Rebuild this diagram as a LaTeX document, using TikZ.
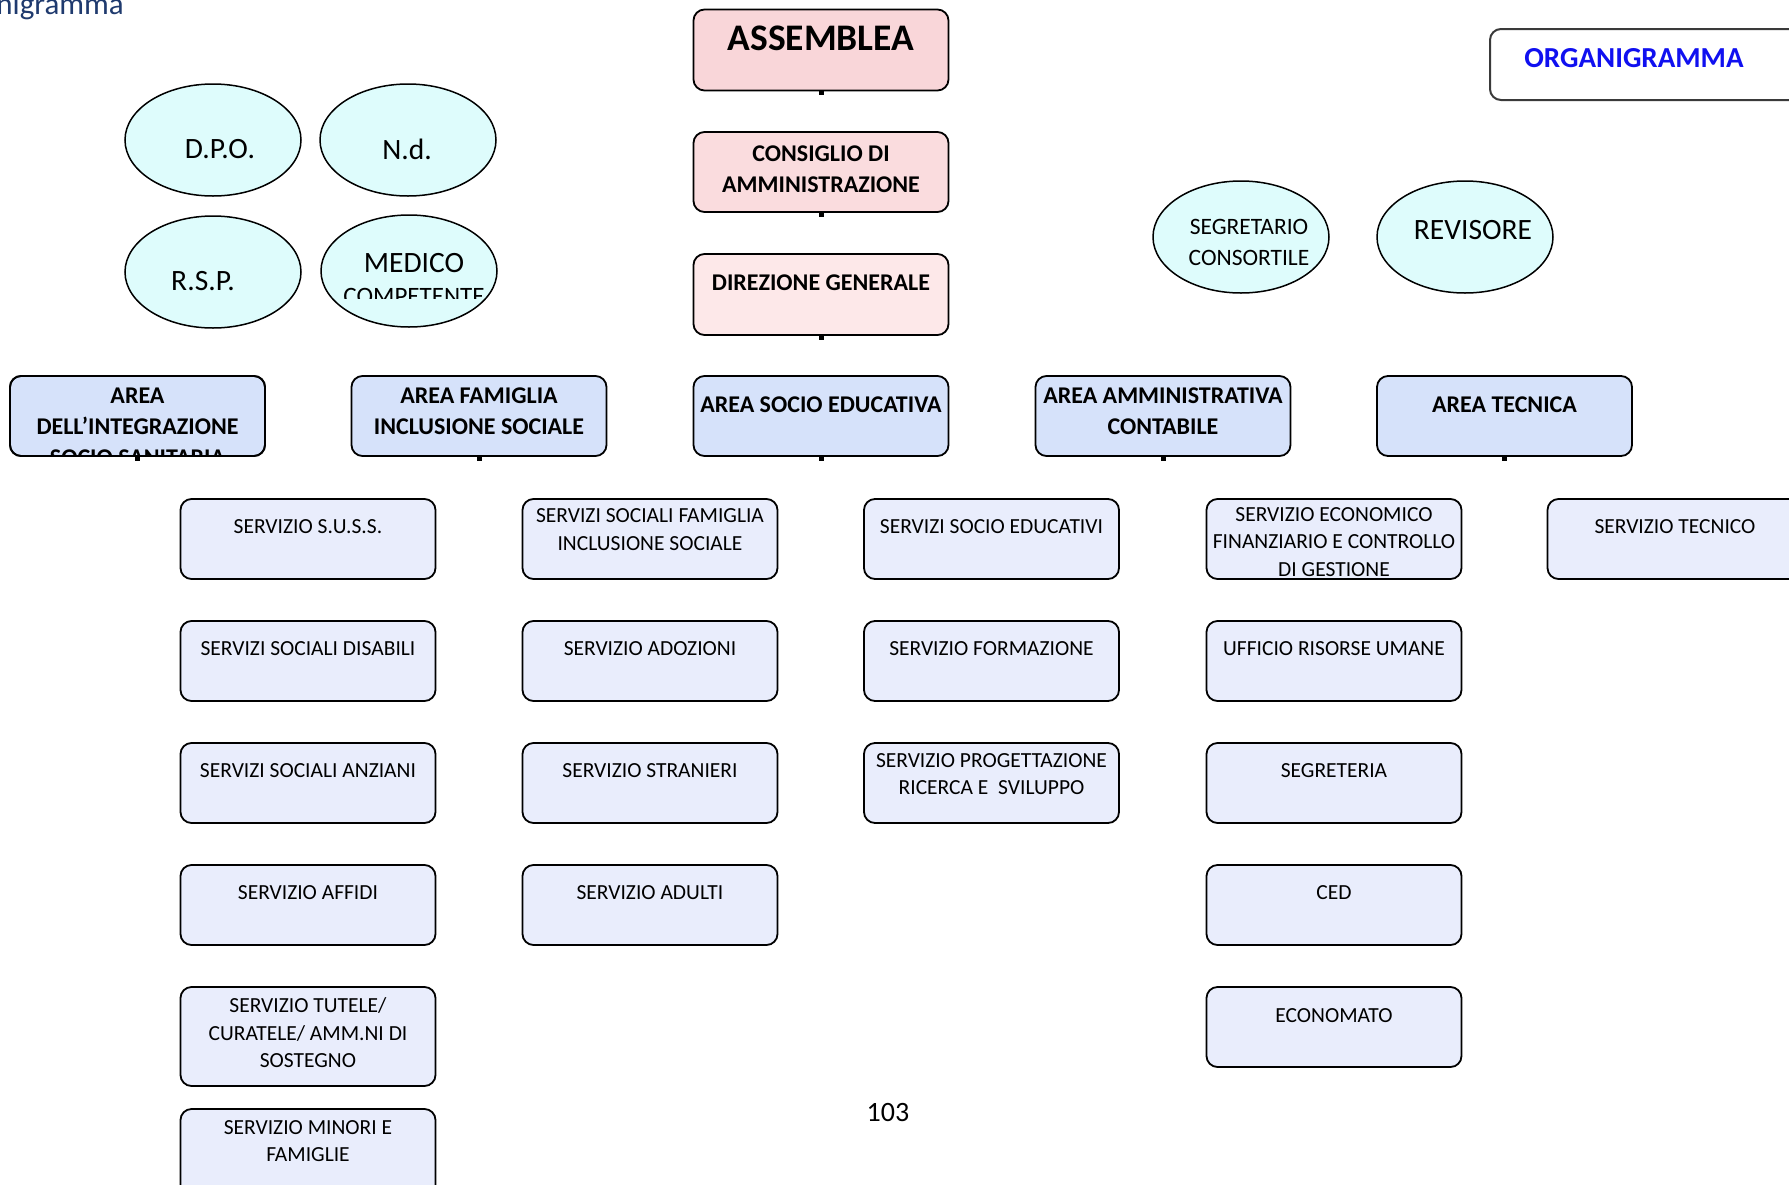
\documentclass[tikz,border=0pt]{standalone}
\usepackage{fontspec}
\setmainfont{Carlito}
\usetikzlibrary{shapes.geometric}
\definecolor{pinkA}{HTML}{F9D6D9}
\definecolor{pinkB}{HTML}{FADCDE}
\definecolor{pinkC}{HTML}{FDE8E9}
\definecolor{areafill}{HTML}{D6E2FA}
\definecolor{svcfill}{HTML}{E9EDFC}
\definecolor{ovalfill}{HTML}{DEFCFC}
\definecolor{titleblue}{HTML}{1F3A6E}
\definecolor{orgblue}{HTML}{1010F0}
\definecolor{orgedge}{HTML}{3A3A3A}
\begin{document}
\begin{tikzpicture}[x=1pt,y=-1pt,
  box/.style={draw=black, line width=1.8pt, rounded corners=11pt, outer sep=0pt,
    minimum width=255pt, minimum height=80pt, inner sep=0pt},
  svc/.style={box, fill=svcfill},
  area/.style={box, fill=areafill},
  txt/.style={align=center, inner sep=0pt, font=\fontsize{21.5}{27.5}\selectfont},
  btxt/.style={align=center, inner sep=0pt, font=\fontsize{24}{31}\selectfont\bfseries},
  oval/.style={ellipse, draw=black, line width=1.5pt, fill=ovalfill,
    minimum width=176pt, minimum height=112pt, inner sep=0pt},
  otxt/.style={align=center, inner sep=0pt, font=\fontsize{29.5}{33}\selectfont},
  dotmark/.style={fill=black}
]
\clip (0,0) rectangle (1789,1184);
\fill[white] (0,0) rectangle (1789,1184);

% title (cut off at the left)
\node[anchor=base east, inner sep=0pt, text=titleblue,
  font=\fontsize{31}{35}\selectfont] (title) at (124,14.5) {Organigramma};

% ORGANIGRAMMA box
\node[draw=orgedge, line width=2pt, rounded corners=11pt, minimum width=320pt,
  minimum height=71pt, inner sep=0pt] (orgbox) at (1650,64.5) {};
\node[inner sep=0pt, text=orgblue, font=\fontsize{29}{32}\selectfont\bfseries]
  (orgtxt) at (1634,58) {ORGANIGRAMMA};

% top chain
\node[box, fill=pinkA, minimum height=81pt] (ass) at (821,50) {};
\node[inner sep=0pt, font=\fontsize{37.5}{40}\selectfont\bfseries] (asst) at (821,38) {ASSEMBLEA};
\node[box, fill=pinkB] (cda) at (821,172) {};
\node[btxt] (cdat) at (821,169) {CONSIGLIO DI\\AMMINISTRAZIONE};
\node[box, fill=pinkC, minimum height=81pt] (dg) at (821,294.5) {};
\node[btxt] (dgt) at (821,283) {DIREZIONE GENERALE};

% ovals
\node[oval] (dpo) at (213,140) {};
\node[otxt] (dpot) at (220,149.5) {D.P.O.};
\node[oval] (nd) at (408,140) {};
\node[otxt] (ndt) at (407,149.5) {N.d.};
\node[oval] (rsp) at (213,272) {};
\node[otxt] (rspt) at (203,281) {R.S.P.};
\node[oval] (med) at (409,271) {};
\node[otxt] (medt) at (414,263) {MEDICO};
\begin{scope}
  \clip (300,280) rectangle (520,298);
  \node[inner sep=0pt, font=\fontsize{25}{28}\selectfont] (medt2) at (414,296.5) {COMPETENTE};
\end{scope}
\node[oval] (seg) at (1241,237) {};
\node[align=center, inner sep=0pt, font=\fontsize{23.5}{31}\selectfont] (segt) at (1249,242.5) {SEGRETARIO\\CONSORTILE};
\node[oval] (rev) at (1465,237) {};
\node[otxt] (revt) at (1473,230) {REVISORE};

% areas
\node[area] (a1) at (137.5,416) {};
\begin{scope}
  \clip (0,370) rectangle (300,455);
  \node[btxt] (a1t) at (137.5,427) {AREA\\DELL'INTEGRAZIONE\\SOCIO SANITARIA};
\end{scope}
\draw[line width=1.8pt, rounded corners=11pt] (a1.north west) rectangle (a1.south east);
\node[area] (a2) at (479,416) {};
\node[btxt] (a2t) at (479,411.5) {AREA FAMIGLIA\\INCLUSIONE SOCIALE};
\node[area] (a3) at (821,416) {};
\node[btxt] (a3t) at (821,405) {AREA SOCIO EDUCATIVA};
\node[area] (a4) at (1163,416) {};
\node[btxt] (a4t) at (1163,411.5) {AREA AMMINISTRATIVA\\CONTABILE};
\node[area] (a5) at (1504.5,416) {};
\node[btxt] (a5t) at (1504.5,405) {AREA TECNICA};

% small marks under the boxes
\foreach \n in {ass,cda,dg,a1,a2,a3,a4,a5}{
  \fill[dotmark] ([xshift=-2.5pt]\n.south) rectangle ([xshift=2.5pt,yshift=-4.5pt]\n.south);
}

% column 1
\node[svc] (s11) at (308,539) {};
\node[txt] (s11t) at (308,527) {SERVIZIO S.U.S.S.};
\node[svc] (s12) at (308,661) {};
\node[txt] (s12t) at (308,649) {SERVIZI SOCIALI DISABILI};
\node[svc] (s13) at (308,783) {};
\node[txt] (s13t) at (308,771) {SERVIZI SOCIALI ANZIANI};
\node[svc] (s14) at (308,905) {};
\node[txt] (s14t) at (308,893) {SERVIZIO AFFIDI};
\node[svc, minimum height=99pt] (s15) at (308,1036.5) {};
\node[txt] (s15t) at (308,1033) {SERVIZIO TUTELE/\\CURATELE/ AMM.NI DI\\SOSTEGNO};
\node[svc, minimum height=90pt] (s16) at (308,1154) {};
\node[txt] (s16t) at (308,1141) {SERVIZIO MINORI E\\FAMIGLIE};

% column 2
\node[svc] (s21) at (650,539) {};
\node[txt] (s21t) at (650,529.5) {SERVIZI SOCIALI FAMIGLIA\\INCLUSIONE SOCIALE};
\node[svc] (s22) at (650,661) {};
\node[txt] (s22t) at (650,649) {SERVIZIO ADOZIONI};
\node[svc] (s23) at (650,783) {};
\node[txt] (s23t) at (650,771) {SERVIZIO STRANIERI};
\node[svc] (s24) at (650,905) {};
\node[txt] (s24t) at (650,893) {SERVIZIO ADULTI};

% column 3
\node[svc] (s31) at (991.5,539) {};
\node[txt] (s31t) at (991.5,527) {SERVIZI SOCIO EDUCATIVI};
\node[svc] (s32) at (991.5,661) {};
\node[txt] (s32t) at (991.5,649) {SERVIZIO FORMAZIONE};
\node[svc] (s33) at (991.5,783) {};
\node[txt] (s33t) at (991.5,774) {SERVIZIO PROGETTAZIONE\\RICERCA E\ \ SVILUPPO};

% column 4
\node[svc] (s41) at (1334,539) {};
\node[txt] (s41t) at (1334,542) {SERVIZIO ECONOMICO\\FINANZIARIO E CONTROLLO\\DI GESTIONE};
\node[svc] (s42) at (1334,661) {};
\node[txt] (s42t) at (1334,649) {UFFICIO RISORSE UMANE};
\node[svc] (s43) at (1334,783) {};
\node[txt] (s43t) at (1334,771) {SEGRETERIA};
\node[svc] (s44) at (1334,905) {};
\node[txt] (s44t) at (1334,893) {CED};
\node[svc] (s45) at (1334,1027) {};
\node[txt] (s45t) at (1334,1015.5) {ECONOMATO};

% column 5
\node[svc] (s51) at (1675,539) {};
\node[txt] (s51t) at (1675,527) {SERVIZIO TECNICO};

% page number
\node[inner sep=0pt, font=\fontsize{28}{32}\selectfont] (pg) at (888,1112) {103};
\end{tikzpicture}
\end{document}
